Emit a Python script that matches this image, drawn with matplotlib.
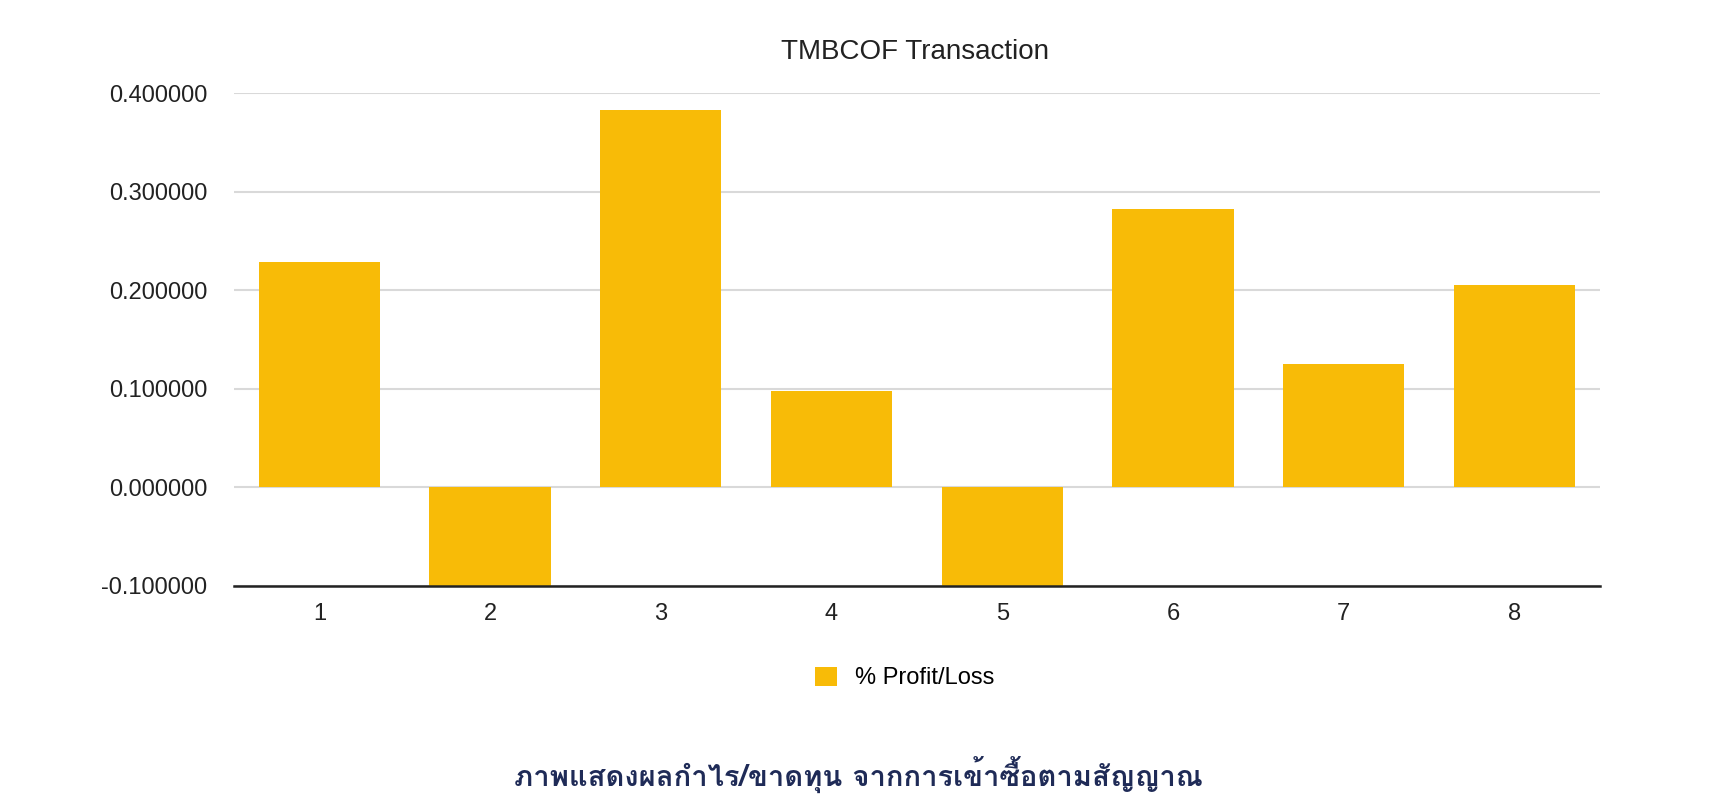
import matplotlib
matplotlib.use("Agg")
import matplotlib.pyplot as plt
from matplotlib import font_manager
from matplotlib.ft2font import FT2Font

# data
transactions = [1, 2, 3, 4, 5, 6, 7, 8]
profit_loss = [0.229, -0.100, 0.383, 0.098, -0.100, 0.282, 0.125, 0.205]
yticks = [-0.1, 0.0, 0.1, 0.2, 0.3, 0.4]

title = "TMBCOF Transaction"
legend_label = "% Profit/Loss"
caption = "ภาพแสดงผลกำไร/ขาดทุน จากการเข้าซื้อตามสัญญาณ"


def find_thai_font():
    # look for an installed upright font that has Thai glyphs
    found = []
    for f in font_manager.fontManager.ttflist:
        try:
            if FT2Font(f.fname).get_char_index(ord("ก")):
                found.append(f)
        except Exception:
            pass
    if not found:
        return None
    found.sort(key=lambda f: (f.style != 'normal', 'Looped' in f.name))
    return found[0].name


plt.rcParams['font.family'] = ['Liberation Sans', 'DejaVu Sans']
thai_font = find_thai_font()
caption_family = [thai_font, 'DejaVu Sans'] if thai_font else ['DejaVu Sans']

bar_color = '#f8bb07'

fig = plt.figure(figsize=(17.24, 8.0), dpi=100)
ax = fig.add_axes([0.1357, 0.2675, 0.7923, 0.6162])

ax.bar(transactions, profit_loss, width=0.71, color=bar_color, zorder=2,
       label=legend_label)

ax.set_xlim(0.5, 8.5)
ax.set_ylim(-0.1, 0.4)
ax.set_yticks(yticks)
ax.set_yticklabels(["%.6f" % v for v in yticks])
ax.set_xticks(transactions)
ax.set_xticklabels([str(t) for t in transactions])

ax.grid(True, axis='y', color='#d9d9d9', linewidth=1.5, zorder=0)
for s in ['top', 'right', 'left']:
    ax.spines[s].set_visible(False)
ax.spines['bottom'].set_color('#222222')
ax.spines['bottom'].set_linewidth(1.8)
ax.spines['bottom'].set_zorder(3)
ax.tick_params(axis='both', length=0, labelsize=17, colors='#222222')
ax.tick_params(axis='y', pad=19)
ax.tick_params(axis='x', pad=12)

fig.text(0.531, 0.935, title, ha='center', va='center', fontsize=20,
         color='#222222')

fig.legend(loc='center', bbox_to_anchor=(0.525, 0.1525), frameon=False,
           fontsize=17, handlelength=0.9, handleheight=0.9, handletextpad=0.8)

fig.text(0.4977, 0.031, caption, ha='center', va='center', fontsize=21,
         fontweight='bold', color='#1f2b57', family=caption_family)

fig.savefig("out.png", dpi=100)
